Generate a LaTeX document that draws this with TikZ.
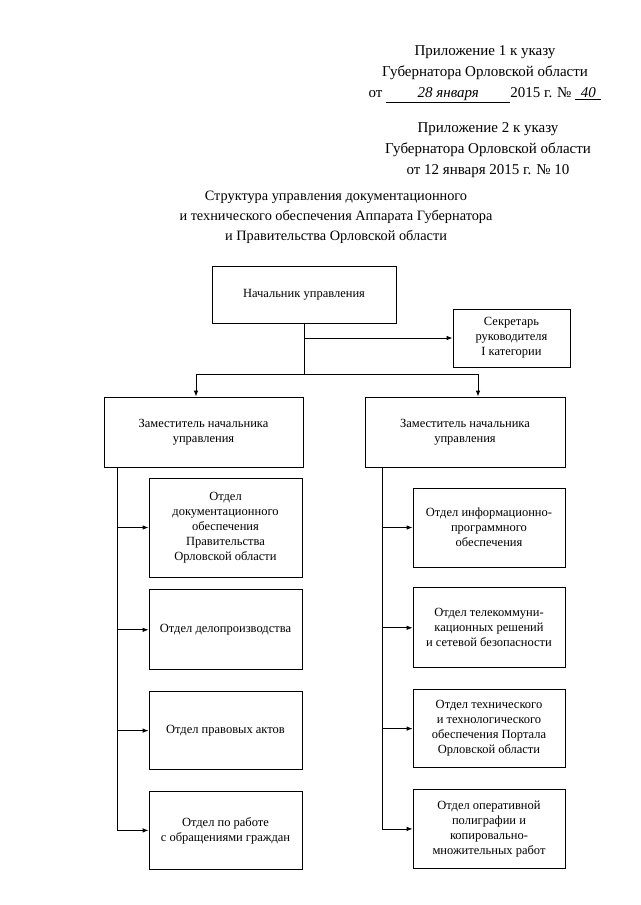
\documentclass[tikz,border=0pt]{standalone}
\usepackage{fontspec}
\setmainfont{Liberation Serif}
\usetikzlibrary{arrows.meta,positioning}
\tikzset{
  >={Latex[length=6pt,width=4.5pt]},
  box/.style ={draw,line width=0.8pt,align=center,inner sep=2pt,font=\fontsize{12.5}{15}\selectfont},
  lbox/.style={box,minimum width=153pt}, rbox/.style={box,minimum width=152pt},
  ar/.style ={->,line width=0.8pt},
  ln/.style ={line width=0.8pt},
  hd/.style ={align=center,inner sep=0pt,font=\fontsize{15}{21}\selectfont},
}
\newcommand{\hand}[2]{\underline{\makebox[#1][c]{\itshape #2}}}

\begin{document}
\begin{tikzpicture}[x=1pt,y=-1pt]
\useasboundingbox (0,0) rectangle (640,905);
% heading
\node[hd] (app1) at (485,74) {Приложение 1 к указу\\ Губернатора Орловской области\\
  от \hand{124pt}{28 января}2015 г. № \hand{26pt}{40}};
\node[hd] (app2) at (488,150.5) {Приложение 2 к указу\\ Губернатора Орловской области\\
  от 12 января 2015 г. № 10};
\node[hd,font=\fontsize{14.3}{20}\selectfont] (ttl) at (336,217)
 {Структура управления документационного\\ и технического обеспечения Аппарата Губернатора\\
  и Правительства Орловской области};
% top
\node[box,minimum width=184pt,minimum height=57pt] (boss) at (304,294.5) {Начальник управления};
\node[box,minimum width=117pt,minimum height=58pt] (sec) at (511.5,338) {Секретарь\\ руководителя\\ I категории};
\node[box,minimum width=199pt,minimum height=70pt] (depL) at (203.5,432) {Заместитель начальника\\ управления};
\node[box,minimum width=200pt,minimum height=70pt] (depR) at (465,432) {Заместитель начальника\\ управления};
% left column
\node[lbox,minimum height=99pt] (u1) at (225.5,527.5) {Отдел\\ документационного\\ обеспечения\\ Правительства\\ Орловской области};
\node[lbox,minimum height=80pt,below=12pt of u1] (u2) {Отдел делопроизводства};
\node[lbox,minimum height=78pt,below=21pt of u2] (u3) {Отдел правовых актов};
\node[lbox,minimum height=78pt,below=21pt of u3] (u4) {Отдел по работе\\ с обращениями граждан};
% right column
\node[rbox,minimum height=79pt] (r1) at (489,527.5) {Отдел информационно-\\ программного\\ обеспечения};
\node[rbox,minimum height=80pt,below=20pt of r1] (r2) {Отдел телекоммуни-\\ кационных решений\\ и сетевой безопасности};
\node[rbox,minimum height=78pt,below=21pt of r2] (r3) {Отдел технического\\ и технологического\\ обеспечения Портала\\ Орловской области};
\node[rbox,minimum height=79pt,below=21pt of r3] (r4) {Отдел оперативной\\ полиграфии и\\ копировально-\\ множительных работ};
% links
\coordinate (fl) at (196,374); \coordinate (fr) at (478,374);
\draw[ln] (boss.south) -- (boss.south |- fl);
\draw[ar] (boss.south |- sec.west) -- (sec.west);
\draw[ln] (fl) -- (fr);
\draw[ar] (fl) -- (fl |- depL.north); \draw[ar] (fr) -- (fr |- depR.north);
\coordinate (tl) at ([xshift=14pt]depL.south west);
\coordinate (tr) at ([xshift=18pt]depR.south west);
\draw[ar] (tl) |- (u4.west);
\foreach \u in {u1,u2,u3} \draw[ar] (tl |- \u.west) -- (\u.west);
\draw[ar] (tr) |- (r4.west);
\foreach \r in {r1,r2,r3} \draw[ar] (tr |- \r.west) -- (\r.west);
\end{tikzpicture}
\end{document}
